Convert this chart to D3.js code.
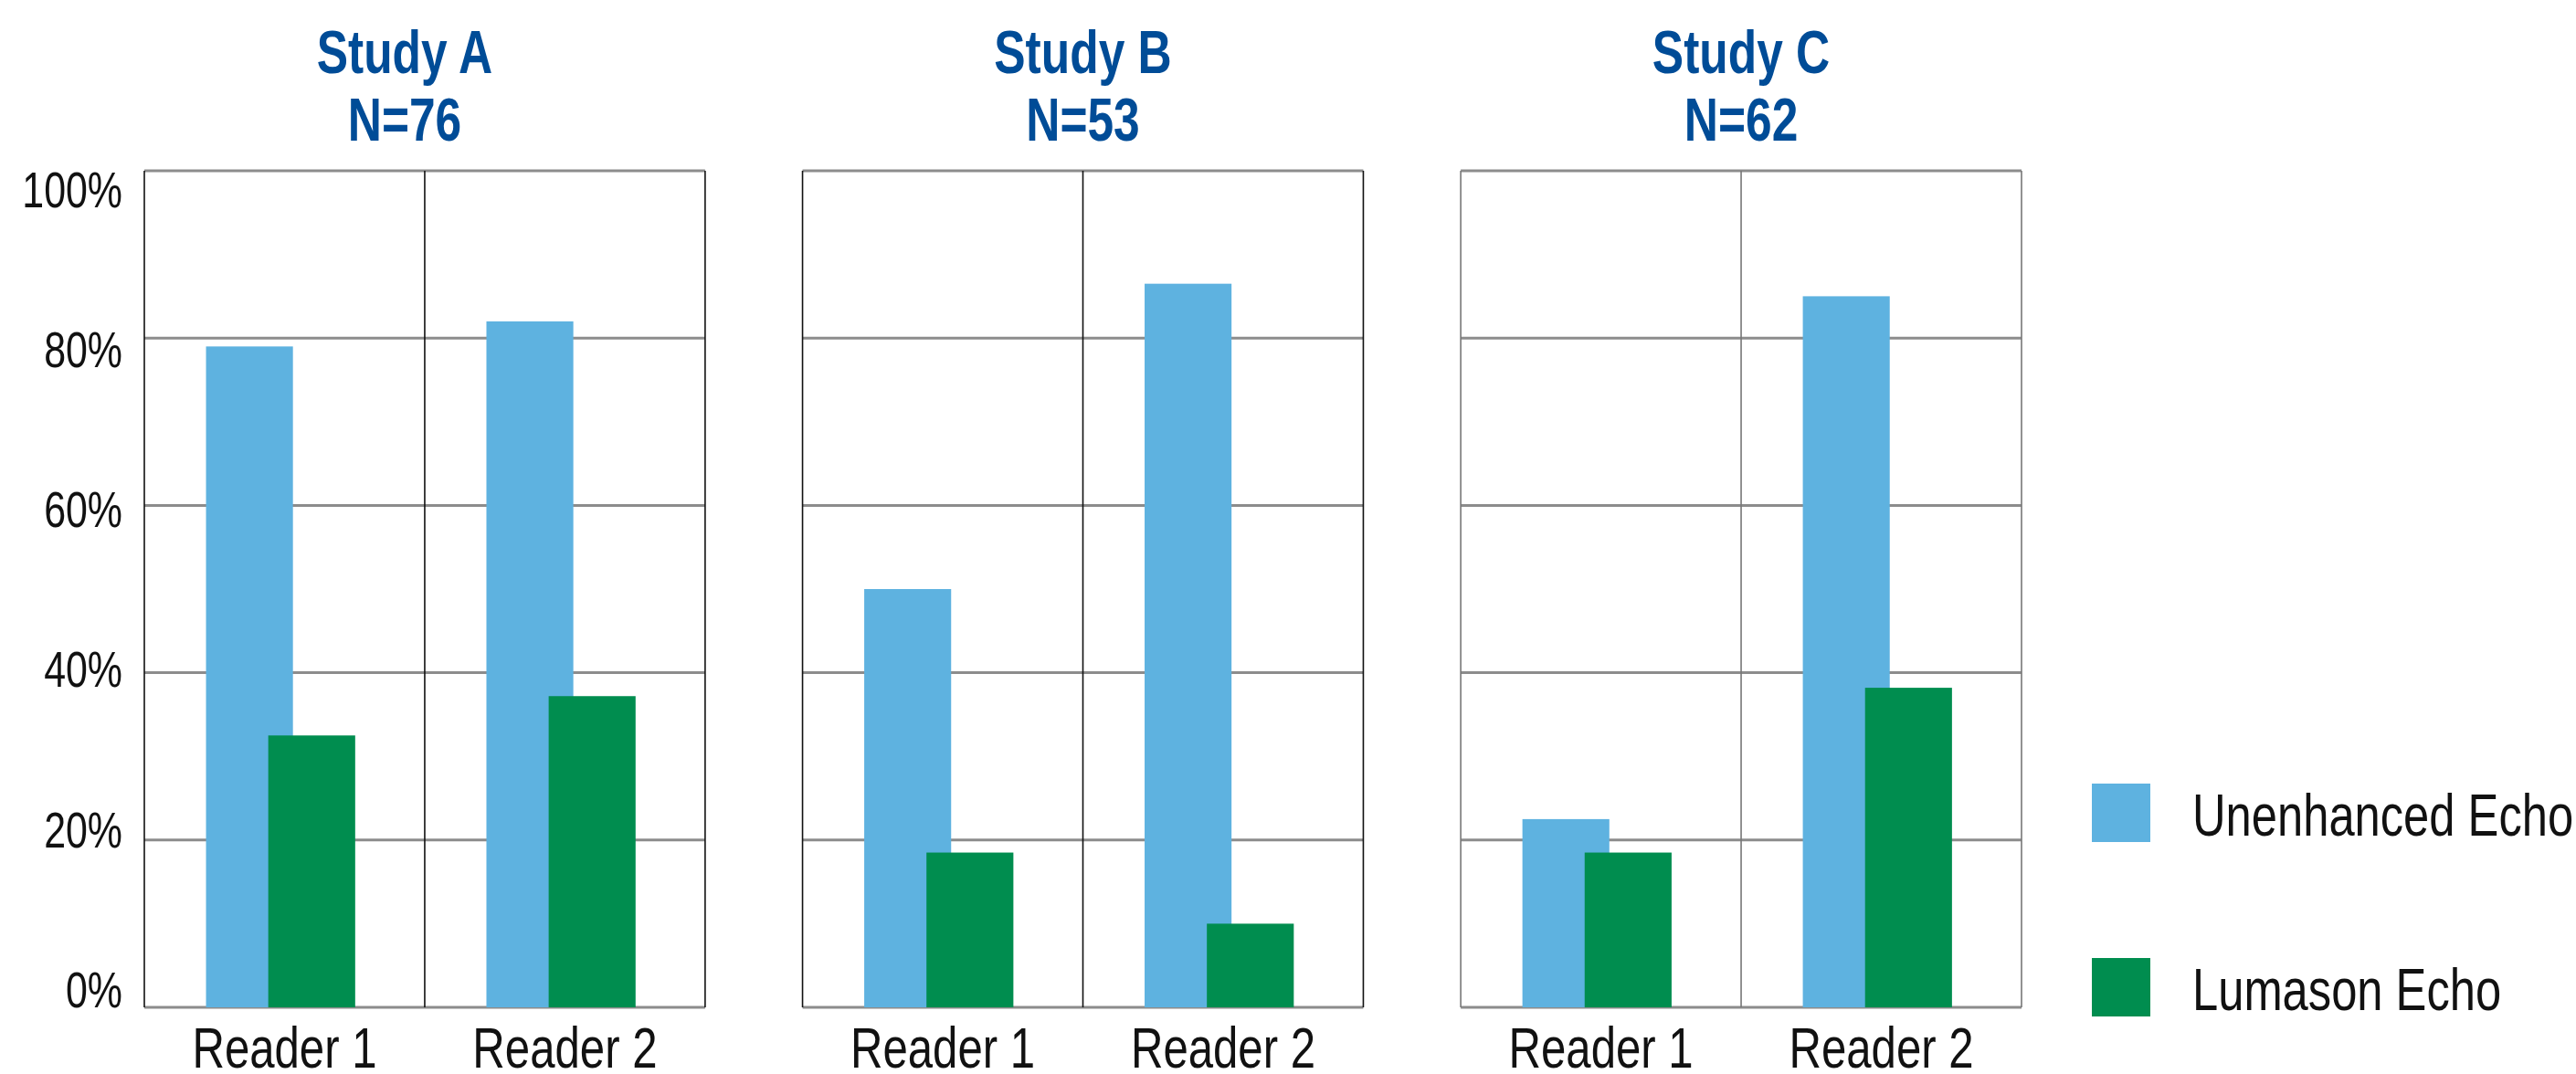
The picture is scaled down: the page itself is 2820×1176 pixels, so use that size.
<!DOCTYPE html>
<html>
<head>
<meta charset="utf-8">
<script src="https://cdn.jsdelivr.net/npm/d3@7"></script>
<style>
  body { margin: 0; background: #fff; }
  svg text { font-family: "Liberation Sans", Arial, Helvetica, sans-serif; }
</style>
</head>
<body>
<div id="chart"></div>
<script>
const width = 2820;
const height = 1176;

// data
const studies = ["Study A", "Study B", "Study C"];
const sampleSizes = [76, 53, 62];
const readers = ["Reader 1", "Reader 2"];
const seriesNames = ["Unenhanced Echo", "Lumason Echo"];
const unenhanced = [[79, 82], [50, 86.5], [22.5, 85]];
const lumason = [[32.5, 37.2], [18.5, 10], [18.5, 38.2]];
const yTicks = [0, 20, 40, 60, 80, 100];

const colors = { "Unenhanced Echo": "#5eb2e0", "Lumason Echo": "#008d4f" };
const titleColor = "#004c97";

// no condensed font installed, so squeeze the text horizontally
const squeeze = 0.78;
const place = (x, y) => `translate(${x},${y}) scale(${squeeze},1)`;

const svg = d3.select("#chart")
  .append("svg")
  .attr("width", width)
  .attr("height", height);

// one panel per study
const xPanel = d3.scaleBand()
  .domain(studies)
  .range([158, 2213])
  .paddingInner(0.148);

const y = d3.scaleLinear().domain([0, 100]).range([1103, 187]);

const xReader = d3.scaleBand()
  .domain(readers)
  .range([0, xPanel.bandwidth()]);

const bw = xReader.bandwidth();
const barW = bw * 0.31;
// the two bars overlap, green drawn on top of blue
const xSeries = d3.scalePoint()
  .domain(seriesNames)
  .range([bw * 0.375, bw * 0.597]);

studies.forEach((study, i) => {
  const g = svg.append("g")
    .attr("transform", `translate(${xPanel(study)},0)`);
  const pw = xPanel.bandwidth();
  const vColor = i === 2 ? "#777" : "#111";

  // horizontal grid lines
  g.append("g")
    .selectAll("line")
    .data(yTicks)
    .join("line")
    .attr("x1", 0)
    .attr("x2", pw)
    .attr("y1", d => y(d))
    .attr("y2", d => y(d))
    .attr("stroke", "#8c8c8c")
    .attr("stroke-width", 3);

  // vertical lines: frame sides and reader divider
  g.append("g")
    .selectAll("line")
    .data([0, pw / 2, pw])
    .join("line")
    .attr("x1", d => d)
    .attr("x2", d => d)
    .attr("y1", y(100))
    .attr("y2", y(0))
    .attr("stroke", vColor)
    .attr("stroke-width", 1.6);

  const rows = readers.map((r, j) => ({
    reader: r,
    values: [
      { name: seriesNames[0], value: unenhanced[i][j] },
      { name: seriesNames[1], value: lumason[i][j] }
    ]
  }));

  g.append("g")
    .selectAll("g")
    .data(rows)
    .join("g")
    .attr("transform", d => `translate(${xReader(d.reader)},0)`)
    .selectAll("rect")
    .data(d => d.values)
    .join("rect")
    .attr("x", d => xSeries(d.name) - barW / 2)
    .attr("width", barW)
    .attr("y", d => y(d.value))
    .attr("height", d => y(0) - y(d.value))
    .attr("fill", d => colors[d.name]);

  // reader labels
  g.append("g")
    .selectAll("text")
    .data(readers)
    .join("text")
    .attr("transform", d => place(xReader(d) + bw / 2, 1169))
    .attr("text-anchor", "middle")
    .attr("font-size", 63)
    .attr("fill", "#111")
    .text(d => d);

  // titles
  const tx = pw / 2 + (i === 0 ? -22 : 0);
  [study, `N=${sampleSizes[i]}`].forEach((line, k) => {
    g.append("text")
      .attr("transform", place(tx, 80 + k * 74))
      .attr("text-anchor", "middle")
      .attr("font-size", 66)
      .attr("font-weight", "bold")
      .attr("fill", titleColor)
      .text(line);
  });
});

// y axis labels (only on the first panel)
svg.append("g")
  .selectAll("text")
  .data(yTicks)
  .join("text")
  .attr("transform", d => place(134, y(d) + (d - 50) * 0.4))
  .attr("dy", "0.36em")
  .attr("text-anchor", "end")
  .attr("font-size", 55)
  .attr("fill", "#111")
  .text(d => d + "%");

// legend
const legend = svg.append("g")
  .selectAll("g")
  .data(seriesNames)
  .join("g")
  .attr("transform", (d, i) => `translate(2290,${858 + i * 191})`);

legend.append("rect")
  .attr("width", 64)
  .attr("height", 64)
  .attr("fill", d => colors[d]);

legend.append("text")
  .attr("transform", place(110, 57))
  .attr("font-size", 65)
  .attr("fill", "#111")
  .text(d => d);
</script>
</body>
</html>
